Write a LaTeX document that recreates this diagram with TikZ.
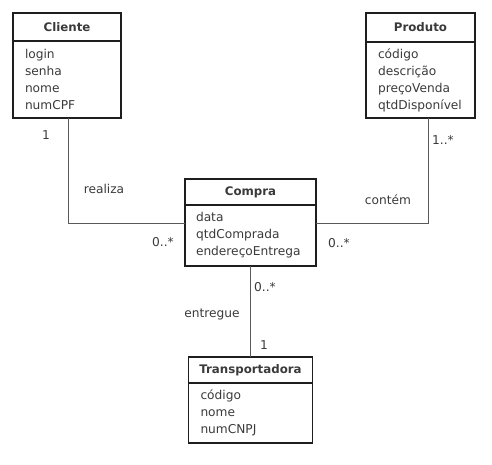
\documentclass[tikz,border=0pt]{standalone}
\usepackage{fontspec}
\setmainfont{DejaVu Sans}
\usetikzlibrary{positioning,calc}
\definecolor{umlink}{HTML}{1E1E1E}
\definecolor{umltext}{HTML}{3A3A3A}
\definecolor{umlline}{HTML}{5A5A5A}

\begin{document}
\begin{tikzpicture}[
    x=1pt, y=-1pt,
    classhead/.style={draw=umlink, line width=1.3pt, outer sep=0pt, inner sep=0pt,
        font=\fontsize{11.8}{14}\selectfont\bfseries, text=umltext},
    classbody/.style={draw=umlink, line width=1.3pt, outer sep=0pt, align=left,
        inner xsep=12pt, inner ysep=0pt, font=\fontsize{12.2}{17}\selectfont, text=umltext},
    assoc/.style={draw=umlline, line width=1pt},
    mult/.style={font=\fontsize{12.2}{14}\selectfont, text=umltext, inner sep=1pt}
]
\useasboundingbox (0,0) rectangle (492,464);

% classes
\node[classhead, minimum width=108pt, minimum height=28pt] (cliente) at (67,27) {Cliente};
\node[classbody, below=0pt of cliente, text width=84pt, minimum height=77pt] (clientebody) {%
  login\\senha\\nome\\numCPF};

\node[classhead, minimum width=109pt, minimum height=29pt] (produto) at (420.5,27.5) {Produto};
\node[classbody, below=0pt of produto, text width=85pt, minimum height=76pt] (produtobody) {%
  código\\descrição\\preçoVenda\\qtdDisponível};

\node[classhead, minimum width=131pt, minimum height=26pt] (compra) at (250.5,192) {Compra};
\node[classbody, below=0pt of compra, inner xsep=11pt, text width=109pt, minimum height=61pt] (comprabody) {%
  data\\qtdComprada\\endereçoEntrega};

\node[classhead, minimum width=124pt, minimum height=26pt] (transp) at (250.5,370) {Transportadora};
\node[classbody, below=0pt of transp, text width=100pt, minimum height=60pt] (transpbody) {%
  código\\nome\\numCNPJ};

% associations
\draw[assoc] ([xshift=1pt]clientebody.south) |- ([yshift=12pt]comprabody.west);
\draw[assoc] ([xshift=7.5pt]produtobody.south) |- ([yshift=12pt]comprabody.east);
\draw[assoc] (comprabody.south) -- (transp.north);

% roles and multiplicities
\node[mult] (multcli) at (46,135) {1};
\node[mult] (realiza) at (104,189) {realiza};
\node[mult] (multcompra1) at (163,242) {0..*};
\node[mult] (multprod) at (443,140) {1..*};
\node[mult] (contem) at (388,200) {contém};
\node[mult] (multcompra2) at (339,243) {0..*};
\node[mult] (multcompra3) at (265,287) {0..*};
\node[mult] (entregue) at (212,314) {entregue};
\node[mult] (multtransp) at (264,345) {1};
\end{tikzpicture}
\end{document}
